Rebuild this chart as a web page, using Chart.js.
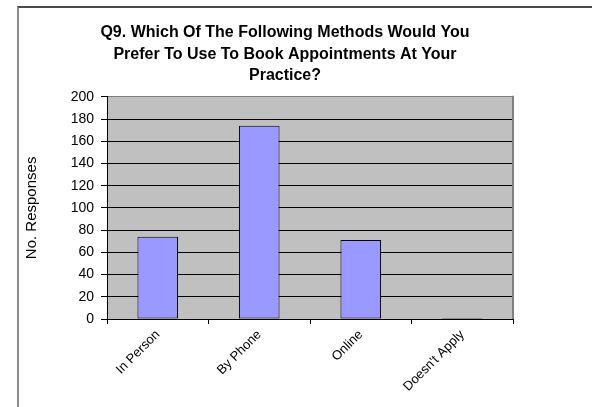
<!DOCTYPE html>
<html>
<head>
<meta charset="utf-8">
<script src="https://cdn.jsdelivr.net/npm/chart.js@4/dist/chart.umd.min.js"></script>
<style>
  html, body { margin: 0; padding: 0; background: #fff; }
  body { width: 592px; height: 407px; position: relative; overflow: hidden; }
  #frame {
    position: absolute; left: 17px; top: 6px; width: 620px; height: 440px;
    border-top: 2px solid #4a4a4a; border-left: 2px solid #8a8a8a;
  }
  #wrap { position: absolute; left: 0; top: 0; width: 592px; height: 407px; }
</style>
</head>
<body>
<div id="frame"></div>
<div id="wrap"><canvas id="chart" width="592" height="407"></canvas></div>
<script>
const categories = ['In Person', 'By Phone', 'Online', "Doesn't Apply"];
const responses = [74, 174, 71, 1];
const yTicks = [0, 20, 40, 60, 80, 100, 120, 140, 160, 180, 200];
const titleLines = [
  'Q9. Which Of The Following Methods Would You',
  'Prefer To Use To Book Appointments At Your',
  'Practice?'
];
const yAxisTitle = 'No. Responses';

const FONT = "'Liberation Sans', Arial, sans-serif";

// grey plot background plus the grey right-hand edge of the plot area
const plotBackground = {
  id: 'plotBackground',
  beforeDraw(chart) {
    const { ctx, chartArea: a } = chart;
    ctx.save();
    ctx.fillStyle = '#c0c0c0';
    ctx.fillRect(a.left, a.top, a.right - a.left, a.bottom - a.top);
    ctx.restore();
  },
  beforeDatasetsDraw(chart) {
    const { ctx, chartArea: a } = chart;
    ctx.save();
    ctx.strokeStyle = '#808080';
    ctx.lineWidth = 2;
    ctx.beginPath();
    ctx.moveTo(a.right, a.top - 1);
    ctx.lineTo(a.right, a.bottom);
    ctx.stroke();
    ctx.restore();
  }
};

new Chart(document.getElementById('chart'), {
  type: 'bar',
  data: {
    labels: categories,
    datasets: [{
      data: responses,
      backgroundColor: '#9999ff',
      borderColor: '#000',
      borderWidth: 1,
      borderSkipped: false,
      barPercentage: 0.4,
      categoryPercentage: 1.0
    }]
  },
  options: {
    responsive: false,
    animation: false,
    devicePixelRatio: 1,
    layout: { padding: { left: 0, right: 22, top: 0, bottom: 0 } },
    plugins: {
      legend: { display: false },
      tooltip: { enabled: false },
      title: {
        display: true,
        text: titleLines,
        color: '#000',
        font: { family: FONT, size: 16, weight: 'bold', lineHeight: 1.35 },
        padding: { top: 22, bottom: 10 }
      }
    },
    scales: {
      x: {
        offset: true,
        grid: {
          display: true, offset: true, drawOnChartArea: false,
          drawTicks: true, tickLength: 5, color: '#000', tickColor: '#000'
        },
        border: { display: true, color: '#000', width: 1 },
        ticks: {
          color: '#000', font: { family: FONT, size: 13 },
          maxRotation: 45, minRotation: 45, padding: 3, autoSkip: false
        },
        afterFit(s) { s.height = 88; }
      },
      y: {
        min: 0, max: 200,
        afterBuildTicks(s) { s.ticks = yTicks.map(v => ({ value: v })); },
        grid: {
          color: ctx => (ctx.tick && ctx.tick.value === 200 ? '#808080' : '#000'),
          tickColor: '#000', tickLength: 6, lineWidth: 1
        },
        border: { display: true, color: '#000', width: 1 },
        ticks: { color: '#000', font: { family: FONT, size: 14 }, padding: 7 },
        title: {
          display: true, text: yAxisTitle, color: '#000',
          font: { family: FONT, size: 15, lineHeight: 1.2 },
          padding: { top: 23, bottom: 0 }
        },
        afterFit(s) { s.width = 107; }
      },
      yRight: {
        position: 'right',
        display: true,
        grid: { display: false },
        border: { display: false },
        ticks: { display: false },
        afterFit(s) { s.width = 57; }
      }
    }
  },
  plugins: [plotBackground]
});
</script>
</body>
</html>
